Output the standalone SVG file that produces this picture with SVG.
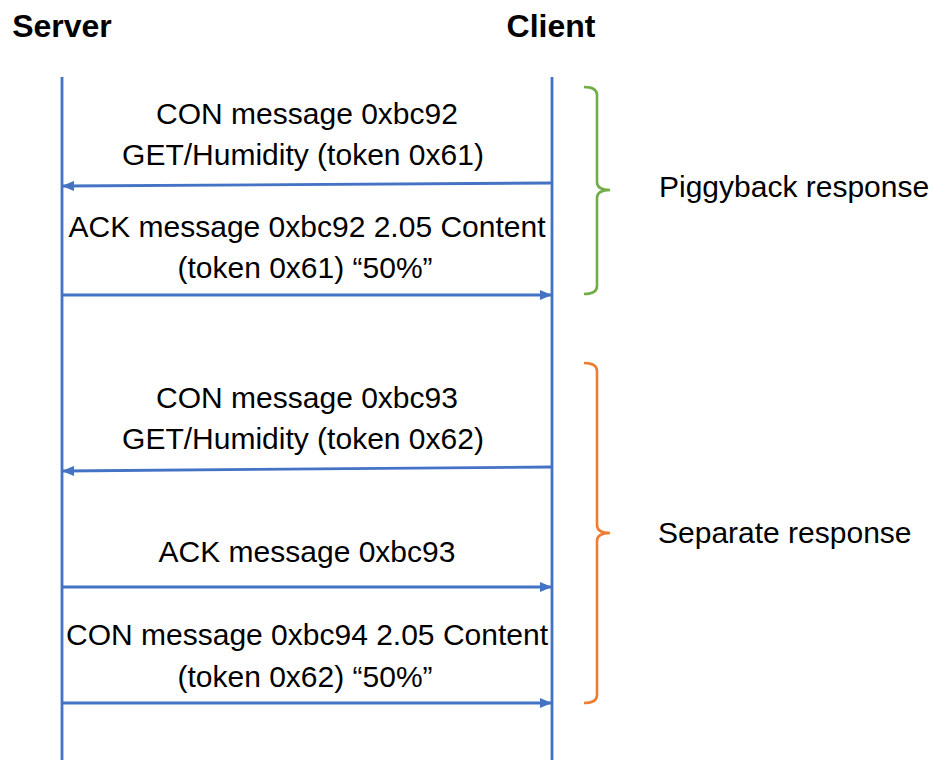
<svg xmlns="http://www.w3.org/2000/svg" width="933" height="760" viewBox="0 0 933 760">
<defs>
<marker id="ah" markerUnits="userSpaceOnUse" markerWidth="12" markerHeight="10" refX="11" refY="5" orient="auto">
<path d="M0,0 L12,5 L0,10 z" fill="#4472C4"/>
</marker>
<style>
.life{stroke:#4472C4;stroke-width:2.8;fill:none}
.msg{stroke:#4472C4;stroke-width:2.8;fill:none;marker-end:url(#ah)}
.lbl{font-family:"Liberation Sans",Arial,sans-serif;font-size:30px;fill:#000;text-anchor:middle}
.hdr{font-family:"Liberation Sans",Arial,sans-serif;font-size:32px;font-weight:bold;fill:#000;text-anchor:middle}
.side{font-family:"Liberation Sans",Arial,sans-serif;font-size:30px;fill:#000}
.brace{fill:none;stroke-width:2.6}
</style>
</defs>
<rect width="933" height="760" fill="#fff"/>
<g id="server">
<text class="hdr" x="62" y="37">Server</text>
<line class="life" x1="62" y1="77" x2="62" y2="760"/>
</g>
<g id="client">
<text class="hdr" x="551" y="37">Client</text>
<line class="life" x1="552" y1="77" x2="552" y2="760"/>
</g>
<g id="connectors">
<line class="msg" x1="552" y1="183" x2="63" y2="186"/>
<line class="msg" x1="62" y1="295" x2="551" y2="295"/>
<line class="msg" x1="552" y1="467" x2="63" y2="471"/>
<line class="msg" x1="62" y1="587" x2="551" y2="587"/>
<line class="msg" x1="62" y1="703" x2="551" y2="703"/>
</g>
<g id="labels">
<text class="lbl" x="307" y="124">CON message 0xbc92</text>
<text class="lbl" x="303" y="165">GET/Humidity (token 0x61)</text>
<text class="lbl" x="307" y="237">ACK message 0xbc92 2.05 Content</text>
<text class="lbl" x="305" y="278">(token 0x61) “50%”</text>
<text class="lbl" x="307" y="408">CON message 0xbc93</text>
<text class="lbl" x="303" y="449">GET/Humidity (token 0x62)</text>
<text class="lbl" x="307" y="562">ACK message 0xbc93</text>
<text class="lbl" x="307" y="645">CON message 0xbc94 2.05 Content</text>
<text class="lbl" x="305" y="687">(token 0x62) “50%”</text>
</g>
<g id="piggyback">
<path class="brace" stroke="#70AD47" d="M584,87 Q597,87 597,95 V182 Q597,190 610,190 Q597,190 597,198 V286 Q597,294 584,294"/>
<text class="side" x="659" y="197">Piggyback response</text>
</g>
<g id="separate">
<path class="brace" stroke="#ED7D31" d="M584,363 Q597,363 597,371 V525 Q597,533 610,533 Q597,533 597,541 V695 Q597,703 584,703"/>
<text class="side" x="658" y="543">Separate response</text>
</g>
</svg>
